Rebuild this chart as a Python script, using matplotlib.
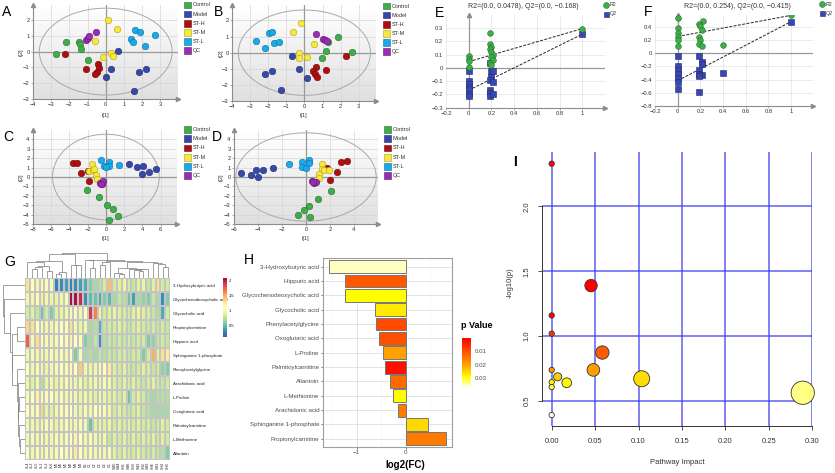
import numpy as np
import matplotlib
matplotlib.use('Agg')
import matplotlib.pyplot as plt
from matplotlib.patches import Ellipse, Rectangle
from matplotlib.colors import LinearSegmentedColormap, Normalize
from matplotlib.cm import ScalarMappable

plt.rcParams['font.family'] = ['Liberation Sans', 'DejaVu Sans']

# ---- score plots (A-D) ----
groups = ['Control', 'Model', 'ST-H', 'ST-M', 'ST-L', 'QC']
group_colors = ['#3fae49', '#3848a8', '#b10d0d', '#f7e83a', '#1aa9ea', '#9b2bb3']
group_edges = ['#22702c', '#1f2a6e', '#6e0a0a', '#b0a020', '#0d6e9e', '#5e1a70']

a_n = [6, 6, 6, 6, 6, 4]
a_x = [-2.71, -2.2, -1.47, -1.43, -1.37, -0.97,
       0.68, 0.31, 0.0, 1.83, 2.23, 1.54,
       -2.23, -1.06, -0.42, -0.38, -0.48, -0.57,
       0.13, 0.64, -0.6, -0.15, 0.31, 0.4,
       1.59, 1.87, 2.71, 1.37, 1.5, 2.18,
       -1.1, -1.0, -0.92, -0.55]
a_y = [-0.17, 0.59, 0.59, 0.5, 0.15, -0.55,
       0.04, -1.12, -1.58, -1.27, -1.1, -2.47,
       -0.17, -1.1, -0.8, -1.05, -1.3, -1.41,
       2.0, 1.41, 0.65, -0.34, -0.06, -0.27,
       1.37, 1.24, 1.03, 0.78, 0.59, 0.36,
       0.74, 0.86, 0.97, 1.22]

b_n = [5, 6, 6, 6, 6, 4]
b_x = [1.88, 2.61, 1.2, 0.95, 1.32,
       -0.66, -0.28, 0.17, -1.78, -2.15, -1.32,
       2.3, 0.63, 0.5, 1.18, 0.59, 0.72,
       -0.2, -0.61, -0.29, -0.29, 0.15, 0.55,
       -2.67, -2.2, -1.95, -1.8, -1.67, -1.43,
       0.64, 1.01, 1.12, 1.23]
b_y = [0.95, 0.04, 0.1, -0.35, 0.66,
       -0.21, -1.03, -1.57, -1.13, -1.34, -2.31,
       -0.23, -0.87, -1.13, -1.07, -1.34, -1.5,
       1.86, 1.28, 0.0, -0.33, -0.29, 0.56,
       0.72, 0.31, 1.2, 1.26, 0.6, 0.66,
       1.18, 0.82, 0.78, 0.7]

c_n = [6, 6, 5, 6, 6, 4]
c_x = [-2.05, -0.8, 0.07, 0.73, 1.35, 0.37,
       2.49, 3.37, 4.03, 3.92, 4.73, 5.46,
       -3.66, -3.15, -2.75, -1.87, -1.94,
       -1.5, -1.83, -1.47, -1.28, -1.14, -1.03,
       -0.51, -0.18, 0.29, 0.37, 1.39, 0.05,
       -0.66, -0.4, -0.29, -0.5]
c_y = [-1.39, -2.17, -2.99, -3.45, -4.15, -4.58,
       1.4, 1.05, 1.12, 0.35, 0.56, 0.84,
       1.5, 1.47, 0.45, -0.42, 0.66,
       1.4, 0.6, 0.75, 0.9, 0.24, -0.17,
       1.82, 1.22, 1.6, 1.12, 1.29, 1.1,
       -0.63, -0.7, -0.45, -0.75]

d_n = [6, 6, 5, 6, 6, 4]
d_x = [2.08, 0.97, 0.22, -0.17, -0.67, 0.33,
       -5.44, -4.61, -4.17, -3.97, -3.56, -2.75,
       1.72, 2.92, 3.42, 2.61, 2.0,
       1.36, 1.3, 1.11, 1.11, 1.5, 1.89,
       -1.39, -0.33, -0.33, 0.0, 0.25, 0.28,
       0.47, 0.67, 0.83, 0.55]
d_y = [-1.47, -2.35, -3.13, -3.5, -4.0, -4.28,
       0.39, 0.21, 0.74, -0.04, 0.74, 0.98,
       0.91, 1.61, 1.72, 0.53, -0.32,
       1.4, 0.88, 0.35, -0.07, 0.74, 0.7,
       1.33, 1.61, 1.09, 0.95, 1.86, 1.44,
       -0.42, -0.6, -0.49, -0.55]

# ---- permutation tests (E, F) ----
e_r2_x = [0, 0, 0, 0, 0.19, 0.19, 0.2, 0.19, 0.2, 0.215, 0.2, 0.21, 0.19, 0.2, 1.0]
e_r2_y = [0.088, 0.068, 0.05, 0.005, 0.265, 0.18, 0.16, 0.14, 0.12, 0.1, 0.08, 0.06, 0.04, 0.02, 0.297]
e_q2_x = [0, 0, 0, 0, 0, 0, 0, 0.19, 0.2, 0.21, 0.2, 0.19, 0.21, 0.19, 0.19, 0.19, 0.215, 1.0]
e_q2_y = [-0.025, -0.095, -0.12, -0.14, -0.158, -0.2, -0.215, 0.035, -0.025, -0.02, -0.07,
          -0.088, -0.108, -0.165, -0.19, -0.21, -0.2, 0.255]
e_int = [0.0478, -0.168]

f_r2_x = [0, 0, 0, 0, 0, 0, 0.22, 0.19, 0.2, 0.21, 0.19, 0.2, 0.19, 0.21, 0.4, 1.0]
f_r2_y = [0.54, 0.38, 0.305, 0.25, 0.2, 0.115, 0.49, 0.44, 0.415, 0.355, 0.24, 0.2, 0.14, 0.105, 0.125, 0.575]
f_q2_x = [0, 0, 0, 0, 0, 0, 0, 0.19, 0.21, 0.21, 0.19, 0.19, 0.21, 0.19, 0.19, 0.4, 1.0]
f_q2_y = [-0.035, -0.2, -0.26, -0.32, -0.375, -0.435, -0.545, -0.035, -0.135, -0.16, -0.26,
          -0.31, -0.335, -0.35, -0.585, -0.295, 0.48]
f_int = [0.254, -0.415]

# ---- heatmap (G) ----
hm_rows = ['3-Hydroxybutyric acid', 'Glycochenodeoxycholic acid', 'Glycocholic acid',
           'Propionylcarnitine', 'Hippuric acid', 'Sphinganine 1-phosphate',
           'Phenylacetylglycine', 'Arachidonic acid', 'L-Proline', 'Oxoglutaric acid',
           'Palmitoylcarnitine', 'L-Methionine', 'Allantoin']
hm_cols = ['SL4', 'SL3', 'SL5', 'SL1', 'SL2', 'SL6', 'M5', 'M6', 'M1', 'M2', 'M3', 'M4',
           'C6', 'C1', 'C2', 'C3', 'C4', 'C5', 'SM5', 'SM4', 'SH1', 'SM6', 'SH3', 'SM2',
           'SH2', 'SM3', 'SH6', 'SM1', 'SH4', 'SH5']
hm_values = [
    [1.3, 1.1, 1.0, 1.05, 1.15, 1.05, 0.3, 0.35, 0.4, 0.3, 0.35, 0.4, 0.45, 0.6, 0.7,
     0.75, 0.85, 1.45, 0.85, 0.9, 0.95, 0.85, 0.8, 0.9, 0.95, 0.8, 0.9, 1.3, 0.85, 0.85],
    [1.0, 1.0, 1.15, 1.25, 1.0, 0.95, 0.95, 1.0, 1.05, 2.05, 2.05, 1.95, 0.35, 0.5, 0.55,
     0.45, 0.6, 0.5, 0.7, 0.8, 0.75, 0.55, 0.4, 0.7, 0.65, 0.6, 0.8, 0.7, 0.35, 0.6],
    [0.85, 0.9, 0.8, 0.55, 0.85, 0.6, 0.9, 0.95, 1.0, 1.05, 1.05, 1.0, 1.1, 1.9, 1.65,
     0.95, 0.85, 0.9, 0.95, 0.9, 0.85, 0.85, 0.9, 0.95, 0.9, 0.85, 0.8, 0.75, 0.45, 0.85],
    [1.35, 1.3, 1.1, 1.05, 1.0, 1.0, 1.05, 1.1, 1.15, 1.3, 1.0, 0.95, 1.0, 0.7, 0.75,
     0.45, 0.8, 0.85, 0.85, 0.9, 0.85, 0.8, 0.85, 0.9, 0.85, 0.8, 0.85, 0.8, 0.85, 0.8],
    [1.75, 1.05, 1.3, 1.1, 1.05, 1.0, 1.05, 1.1, 1.15, 1.2, 1.1, 1.15, 0.6, 0.7, 0.8,
     0.35, 0.75, 0.8, 0.8, 0.85, 0.8, 0.85, 0.8, 0.85, 0.85, 0.6, 0.65, 0.8, 0.85, 0.8],
    [1.0, 1.05, 1.0, 1.0, 1.0, 1.05, 1.0, 1.05, 1.0, 1.1, 0.6, 1.05, 0.7, 0.75, 0.7,
     0.8, 0.75, 0.8, 0.8, 0.85, 0.85, 0.8, 0.85, 0.85, 0.6, 0.85, 1.5, 0.9, 1.3, 1.25],
    [1.1, 1.0, 1.05, 1.0, 0.95, 1.0, 1.05, 1.1, 1.05, 1.15, 1.1, 1.4, 1.0, 0.95, 1.0,
     1.05, 1.1, 1.25, 0.9, 0.85, 0.9, 0.85, 0.8, 0.85, 0.9, 0.85, 0.8, 0.85, 0.65, 0.6],
    [0.95, 0.9, 1.0, 0.75, 0.95, 1.0, 0.95, 1.0, 1.05, 1.0, 0.95, 1.0, 0.9, 0.95, 1.0,
     0.95, 1.05, 1.0, 0.9, 0.85, 0.9, 0.85, 0.9, 0.85, 0.8, 0.85, 0.9, 0.85, 0.8, 0.85],
    [1.05, 1.1, 1.2, 1.05, 1.15, 1.1, 1.0, 1.05, 1.0, 1.05, 1.0, 0.95, 1.0, 0.95, 0.9,
     1.0, 0.95, 0.9, 0.9, 0.85, 0.9, 0.55, 0.85, 0.9, 0.85, 0.75, 0.7, 0.75, 0.75, 0.75],
    [1.1, 1.05, 1.05, 1.35, 0.95, 0.9, 1.0, 1.05, 1.15, 1.1, 1.0, 0.95, 1.05, 1.0, 1.1,
     1.15, 1.05, 1.0, 0.85, 0.9, 0.85, 0.8, 0.85, 0.9, 0.8, 0.75, 0.7, 0.7, 0.7, 0.7],
    [1.0, 1.0, 0.95, 1.0, 1.05, 1.0, 0.95, 1.0, 1.05, 1.0, 1.0, 1.05, 1.0, 0.55, 0.9,
     0.95, 0.9, 0.95, 0.85, 0.9, 0.85, 0.9, 0.85, 0.9, 0.85, 0.85, 0.8, 0.85, 0.9, 0.85],
    [1.0, 1.05, 1.0, 1.05, 1.0, 1.0, 1.05, 1.0, 1.05, 1.1, 1.2, 1.1, 1.0, 1.05, 1.0,
     0.95, 1.0, 0.8, 0.9, 0.85, 0.9, 0.85, 0.9, 0.85, 0.9, 0.85, 0.9, 0.85, 0.9, 0.85],
    [1.1, 1.0, 1.05, 1.0, 1.05, 1.0, 1.05, 1.1, 1.05, 1.15, 1.25, 1.1, 1.0, 1.05, 1.0,
     1.05, 1.0, 1.05, 0.9, 0.85, 0.9, 0.85, 0.85, 0.9, 0.85, 0.8, 0.85, 0.8, 0.75, 0.6],
]

# ---- fold change bars (H) ----
fc_names = ['3-Hydroxybutyric acid', 'Hippuric acid', 'Glycochenodeoxycholic acid',
            'Glycocholic acid', 'Phenylacetylglycine', 'Oxoglutaric acid', 'L-Proline',
            'Palmitoylcarnitine', 'Allantoin', 'L-Methionine', 'Arachidonic acid',
            'Sphinganine 1-phosphate', 'Propionylcarnitine']
fc_vals = [-1.56, -1.245, -1.24, -0.626, -0.6, -0.544, -0.456, -0.42, -0.32, -0.26,
           -0.163, 0.463, 0.82]
fc_p = [0.035, 0.0115, 0.029, 0.027, 0.0098, 0.0105, 0.0203, 0.0028, 0.0136, 0.029,
        0.0157, 0.0255, 0.0157]

# ---- pathway impact (I) ----
i_impact = [0.0, 0.0453, 0.0, 0.0, 0.0583, 0.0, 0.048, 0.0069, 0.0, 0.0, 0.0173,
            0.1036, 0.289, 0.0]
i_logp = [2.33, 1.39, 1.16, 1.02, 0.874, 0.74, 0.74, 0.687, 0.646, 0.608, 0.641,
          0.672, 0.564, 0.392]

W, H = 835, 473
fig = plt.figure(figsize=(W / 100, H / 100), dpi=100)


def box(l, t, r, b):
    return [l / W, 1 - b / H, (r - l) / W, (b - t) / H]


def ftext(x, y, s, **kw):
    return fig.text(x / W, 1 - y / H, s, **kw)


def tick_fmt(vals):
    return [('%g' % v).replace('-', '\u2212') for v in vals]


def score_panel(rect, xs, ys, ns, xlim, ylim, xticks, yticks, ell):
    ax = fig.add_axes(box(*rect))
    bg = LinearSegmentedColormap.from_list('bg', ['#ffffff', '#e0e0e0'])
    ax.imshow(np.linspace(0, 1, 64).reshape(-1, 1), cmap=bg, aspect='auto', origin='upper',
              extent=[xlim[0], xlim[1], ylim[0], ylim[1]], zorder=0)
    for t in xticks:
        ax.axvline(t, color='#d6d6d6', lw=0.5, zorder=1)
    for t in yticks:
        ax.axhline(t, color='#d6d6d6', lw=0.5, zorder=1)
    ax.axhline(0, color='#9a9a9a', lw=0.9, zorder=1.5)
    ax.axvline(0, color='#9a9a9a', lw=0.9, zorder=1.5)
    ax.add_patch(Ellipse((0, 0), ell[0], ell[1], fill=False, ec='#a8a8a8', lw=0.7, zorder=2))
    start = 0
    for n, c, e in zip(ns, group_colors, group_edges):
        ax.scatter(xs[start:start + n], ys[start:start + n], s=22, c=c, edgecolors=e,
                   linewidths=0.4, zorder=3)
        start += n
    ax.set_xlim(xlim)
    ax.set_ylim(ylim)
    ax.set_xticks(xticks)
    ax.set_yticks(yticks)
    ax.set_xticklabels(tick_fmt(xticks))
    ax.set_yticklabels(tick_fmt(yticks))
    ax.tick_params(labelsize=4.2, length=1.5, width=0.5, color='#8c8c8c',
                   labelcolor='#333333', pad=1)
    for s in ['top', 'right']:
        ax.spines[s].set_visible(False)
    for s in ['left', 'bottom']:
        ax.spines[s].set_color('#8c8c8c')
        ax.spines[s].set_linewidth(0.8)
    ax.plot([xlim[1]], [ylim[0]], marker='>', ms=3, color='#8c8c8c', clip_on=False)
    ax.plot([xlim[0]], [ylim[1]], marker='^', ms=3, color='#8c8c8c', clip_on=False)
    return ax


def group_legend(lx, ly, dy):
    for i, (g, c, e) in enumerate(zip(groups, group_colors, group_edges)):
        y = ly + i * dy
        fig.add_artist(Rectangle((lx / W, 1 - (y + 3.3) / H), 6.7 / W, 6.7 / H,
                                 transform=fig.transFigure, fc=c, ec=e, lw=0.4))
        ftext(lx + 8.5, y, g, fontsize=4, va='center', color='#333333')


score_panel((33, 5, 178, 99), a_x, a_y, a_n, (-4, 3.97), (-3, 2.95),
            list(range(-4, 4)), list(range(-3, 3)), (7.3, 5.5))
score_panel((232, 5, 375.9, 101), b_x, b_y, b_n, (-4, 3.95), (-3, 2.96),
            list(range(-4, 4)), list(range(-3, 3)), (7.3, 5.3))
score_panel((33, 130, 177, 224), c_x, c_y, c_n, (-8, 7.8), (-5, 5),
            list(range(-8, 7, 2)), list(range(-5, 5)), (11.7, 9.1))
score_panel((234, 130, 378, 224), d_x, d_y, d_n, (-6, 6), (-5, 5),
            list(range(-6, 5, 2)), list(range(-5, 5)), (11.7, 9.4))

group_legend(184, 5, 9.15)
group_legend(383, 6, 9.15)
group_legend(184, 129.3, 9.3)
group_legend(384, 129.3, 9.3)

for x, y in [(106, 115), (304, 116), (106, 238), (306, 238)]:
    ftext(x, y, 't[1]', fontsize=4, ha='center', va='center', color='#333333')
for x, y in [(21, 52), (221, 53), (21, 177), (221, 177)]:
    ftext(x, y, 't[2]', fontsize=4, ha='center', va='center', rotation=90, color='#333333')


def perm_panel(rect, r2x, r2y, q2x, q2y, ints, xlim, ylim, yticks, title, tx, leg):
    ax = fig.add_axes(box(*rect))
    xticks = [-0.2, 0, 0.2, 0.4, 0.6, 0.8, 1]
    for t in xticks:
        ax.axvline(t, color='#e2e2e2', lw=0.5, zorder=0)
    for t in yticks:
        ax.axhline(t, color='#e2e2e2', lw=0.5, zorder=0)
    ax.axhline(0, color='#9a9a9a', lw=0.9, zorder=1)
    ax.axvline(0, color='#9a9a9a', lw=0.9, zorder=1)
    ax.plot([0, r2x[-1]], [ints[0], r2y[-1]], color='#222222', lw=0.7, dashes=(3, 1.5), zorder=2)
    ax.plot([0, q2x[-1]], [ints[1], q2y[-1]], color='#222222', lw=0.7, dashes=(3, 1.5), zorder=2)
    ax.scatter(q2x, q2y, marker='s', s=13, c='#3848b0', edgecolors='#1f2a6e', linewidths=0.4, zorder=3)
    ax.scatter(r2x, r2y, marker='o', s=17, c='#3fae49', edgecolors='#22702c', linewidths=0.4, zorder=4)
    ax.set_xlim(xlim)
    ax.set_ylim(ylim)
    ax.set_xticks(xticks)
    ax.set_yticks(yticks)
    ax.set_xticklabels(tick_fmt(xticks))
    ax.set_yticklabels(tick_fmt(yticks))
    ax.tick_params(labelsize=4.2, length=1.5, width=0.5, color='#8c8c8c',
                   labelcolor='#333333', pad=1)
    ax.tick_params(axis='y', length=0, pad=2)
    for s in ['top', 'right', 'left']:
        ax.spines[s].set_visible(False)
    ax.spines['bottom'].set_color('#8c8c8c')
    ax.spines['bottom'].set_linewidth(0.8)
    ax.plot([xlim[1]], [ylim[0]], marker='>', ms=3, color='#8c8c8c', clip_on=False)
    ax.plot([0], [ylim[1]], marker='^', ms=3, color='#8c8c8c', clip_on=False)
    ftext(tx, 6, title, fontsize=5, ha='center', va='center', color='#333333')
    fig.add_artist(plt.Line2D([leg[0] / W], [1 - leg[1] / H], marker='o', ms=4.2, color='#3fae49',
                              mec='#22702c', mew=0.4, transform=fig.transFigure))
    fig.add_artist(plt.Line2D([leg[0] / W], [1 - (leg[1] + 9) / H], marker='s', ms=3.6, color='#3848b0',
                              mec='#1f2a6e', mew=0.4, transform=fig.transFigure))
    ftext(leg[0] + 4, leg[1], 'R2', fontsize=3.8, va='center', color='#333333')
    ftext(leg[0] + 4, leg[1] + 9, 'Q2', fontsize=3.8, va='center', color='#333333')


perm_panel((446, 15, 605, 107.7), e_r2_x, e_r2_y, e_q2_x, e_q2_y, e_int, (-0.2, 1.2), (-0.3, 0.4),
           [-0.3, -0.2, -0.1, 0, 0.1, 0.2, 0.3], 'R2=(0.0, 0.0478), Q2=(0.0, \u22120.168)', 523, (606, 5))
perm_panel((655, 15, 812.7, 106), f_r2_x, f_r2_y, f_q2_x, f_q2_y, f_int, (-0.2, 1.19), (-0.8, 0.58),
           [-0.8, -0.6, -0.4, -0.2, 0, 0.2, 0.4], 'R2=(0.0, 0.254), Q2=(0.0, \u22120.415)', 737, (822, 4))


# ---- G: heatmap with dendrograms from the values ----
def adjacent_tree(vectors):
    clusters = [[i + 0.5, 0.0, [i]] for i in range(len(vectors))]
    links = []
    while len(clusters) > 1:
        dists = [np.linalg.norm(vectors[a[2]].mean(0) - vectors[b[2]].mean(0))
                 for a, b in zip(clusters[:-1], clusters[1:])]
        k = int(np.argmin(dists))
        a, b = clusters[k], clusters[k + 1]
        h = max(dists[k], a[1], b[1]) + 0.04
        links.append((a[0], a[1], b[0], b[1], h))
        clusters[k:k + 2] = [[(a[0] + b[0]) / 2, h, a[2] + b[2]]]
    return links


hm = np.array(hm_values)
ax_hm = fig.add_axes(box(25, 278, 170, 460))
mesh = ax_hm.pcolormesh(hm, cmap='Spectral_r', vmin=0.13, vmax=2.1, edgecolors='#c4c4c4', linewidth=0.2)
ax_hm.set_xlim(0, hm.shape[1])
ax_hm.set_ylim(hm.shape[0], 0)
ax_hm.set_yticks(np.arange(hm.shape[0]) + 0.5)
ax_hm.set_yticklabels(hm_rows)
ax_hm.yaxis.tick_right()
ax_hm.set_xticks(np.arange(hm.shape[1]) + 0.5)
ax_hm.set_xticklabels(hm_cols, rotation=90)
ax_hm.tick_params(axis='y', length=0, labelsize=3.2, pad=2, labelcolor='#222222')
ax_hm.tick_params(axis='x', length=0, labelsize=2.6, pad=1.5, labelcolor='#222222')
for s in ax_hm.spines.values():
    s.set_visible(False)

ax_top = fig.add_axes(box(25, 253, 170, 278))
col_links = adjacent_tree(hm.T)
for pa, ha, pb, hb, h in col_links:
    ax_top.plot([pa, pa, pb, pb], [ha, h, h, hb], color='#7a7a7a', lw=0.5)
ax_top.set_xlim(0, hm.shape[1])
ax_top.set_ylim(0, max(l[4] for l in col_links) * 1.02)
ax_top.axis('off')

ax_left = fig.add_axes(box(3, 278, 25, 460))
row_links = adjacent_tree(hm)
for pa, ha, pb, hb, h in row_links:
    ax_left.plot([ha, h, h, hb], [pa, pa, pb, pb], color='#7a7a7a', lw=0.5)
ax_left.set_ylim(hm.shape[0], 0)
ax_left.set_xlim(max(l[4] for l in row_links) * 1.02, 0)
ax_left.axis('off')

cax = fig.add_axes(box(223, 278, 227, 337))
cb = fig.colorbar(mesh, cax=cax, ticks=[0.5, 1, 1.5, 2])
cb.ax.set_yticklabels(['0.5', '1', '1.5', '2'])
cb.outline.set_visible(False)
cax.tick_params(labelsize=3, length=0, pad=1)

# ---- H: log2(FC) bars coloured by p value ----
cmap_p = LinearSegmentedColormap.from_list(
    'pv', [(0, '#ff0000'), (0.25, '#ff4a00'), (0.55, '#ffa000'), (0.8, '#ffff00'), (1, '#ffffe0')])
norm_p = Normalize(0.001, 0.036)

ax_h = fig.add_axes(box(322.7, 258.3, 451.7, 446.7))
pos = np.arange(len(fc_names))
for t in [-1.5, -0.5, 0.5]:
    ax_h.axvline(t, color='#f2f2f2', lw=0.4, zorder=0)
for t in [-1, 0]:
    ax_h.axvline(t, color='#e4e4e4', lw=0.7, zorder=0)
for p in pos:
    ax_h.axhline(p, color='#e4e4e4', lw=0.7, zorder=0)
ax_h.barh(pos, fc_vals, height=0.9, color=cmap_p(norm_p(fc_p)), edgecolor='#777777',
          linewidth=0.7, zorder=3)
ax_h.set_xlim(-1.69, 0.94)
ax_h.set_ylim(12.55, -0.58)
ax_h.set_yticks(pos)
ax_h.set_yticklabels(fc_names)
ax_h.set_xticks([-1, 0])
ax_h.set_xticklabels(['\u22121', '0'])
ax_h.tick_params(labelsize=4.4, length=1.5, width=0.5, color='#444444', labelcolor='#4d4d4d', pad=1)
for s in ax_h.spines.values():
    s.set_color('#a0a0a0')
    s.set_linewidth(0.8)
ftext(405, 465, 'log2(FC)', fontsize=7, fontweight='bold', ha='center', va='center')

cax2 = fig.add_axes(box(461.7, 338.3, 470.7, 386.7))
cb2 = fig.colorbar(ScalarMappable(norm=norm_p, cmap=cmap_p), cax=cax2, ticks=[0.01, 0.02, 0.03])
cax2.invert_yaxis()
cb2.outline.set_visible(False)
cb2.ax.set_yticklabels(['0.01', '0.02', '0.03'])
cax2.tick_params(labelsize=4.4, length=0, pad=3, labelcolor='#4d4d4d')
ftext(461, 325, 'p Value', fontsize=6.5, fontweight='bold', va='center')

# ---- I: pathway impact ----
cmap_i = LinearSegmentedColormap.from_list(
    'imp', [(0, '#fffff2'), (0.25, '#ffff80'), (0.35, '#ffff00'), (0.42, '#ffcc00'),
            (0.5, '#ff9900'), (0.7, '#ff5500'), (0.9, '#ff3300'), (1, '#ff0000')])
ax_i = fig.add_axes(box(541.7, 152, 812.3, 425.7))
xt_i = [0.0, 0.05, 0.10, 0.15, 0.20, 0.25, 0.30]
yt_i = [0.5, 1.0, 1.5, 2.0]
for t in xt_i:
    ax_i.axvline(t, color='#3a3aee', lw=1.2, alpha=0.75, zorder=1)
for t in yt_i:
    ax_i.axhline(t, color='#3a3aee', lw=1.2, alpha=0.75, zorder=1)
diam = 2 * (8 + 50 * np.sqrt(np.array(i_impact))) / 3 * 0.72
ax_i.scatter(i_impact, i_logp, s=diam ** 2, c=i_logp, cmap=cmap_i, norm=Normalize(0.39, 1.1),
             edgecolors='#333333', linewidths=0.6, zorder=3, clip_on=False)
ax_i.set_xlim(-0.0115, 0.30)
ax_i.set_ylim(0.31, 2.42)
ax_i.set_xticks(xt_i)
ax_i.set_xticklabels(['%.2f' % t for t in xt_i])
ax_i.set_yticks(yt_i)
ax_i.set_yticklabels(['%.1f' % t for t in yt_i], rotation=90, va='center')
ax_i.tick_params(labelsize=5.5, length=3, width=0.6, color='#333333', labelcolor='#333333')
ax_i.tick_params(axis='x', pad=6)
ax_i.tick_params(axis='y', pad=5)
for s in ['top', 'right']:
    ax_i.spines[s].set_visible(False)
ax_i.spines['left'].set_bounds(0.5, 2.0)
ax_i.spines['bottom'].set_bounds(0.0, 0.30)
for s in ['left', 'bottom']:
    ax_i.spines[s].set_color('#333333')
    ax_i.spines[s].set_linewidth(0.7)
ftext(677, 462, 'Pathway Impact', fontsize=5.5, ha='center', va='center', color='#333333')
ftext(510, 283, '-log10(p)', fontsize=5.5, ha='center', va='center', rotation=90, color='#333333')

# panel letters
for s, x, y, w in [('A', 2, 12, 'normal'), ('B', 214, 12, 'normal'), ('C', 3, 137, 'normal'),
                   ('D', 212, 137, 'normal'), ('E', 435, 13, 'normal'), ('F', 644, 12, 'normal'),
                   ('G', 4, 262, 'normal'), ('H', 244, 260, 'normal'), ('I', 513, 162, 'bold')]:
    ftext(x, y, s, fontsize=10, fontweight=w, va='center', ha='left')

fig.savefig('out.png', dpi=100)
